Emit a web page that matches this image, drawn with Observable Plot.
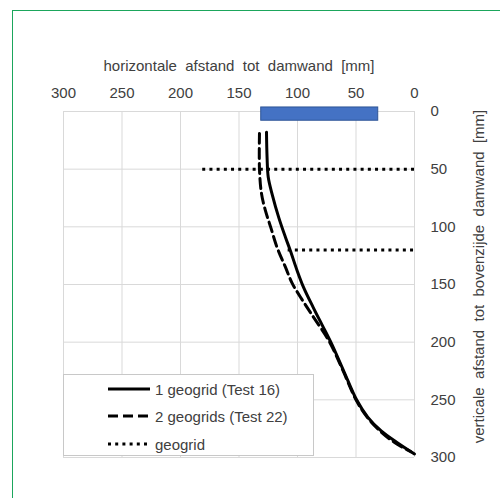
<!DOCTYPE html>
<html>
<head>
<meta charset="utf-8">
<script src="https://cdn.jsdelivr.net/npm/d3@7"></script>
<script src="https://cdn.jsdelivr.net/npm/@observablehq/plot@0.6"></script>
<style>
  html, body { margin: 0; padding: 0; background: #ffffff; }
  #wrap { position: relative; width: 500px; height: 498px; overflow: hidden; background: #ffffff;
          font-family: "Liberation Sans", Arial, sans-serif; }
  #frame { position: absolute; left: 12px; top: 10px; width: 520px; height: 520px;
           border-left: 1.5px solid #1ba65c; border-top: 1.5px solid #1ba65c; }
  #chart { position: absolute; left: 0; top: 0; }
  #legend { position: absolute; left: 63px; top: 374px; width: 251px; height: 82px;
            background: #ffffff; border: 1.5px solid #c8c8c8; box-sizing: border-box; }
  .row { position: absolute; left: 0; height: 20px; display: flex; align-items: center;
         font-size: 15px; color: #404040; white-space: nowrap; }
  .row svg { margin-left: 44px; margin-right: 5px; }
</style>
</head>
<body>
<div id="wrap">
  <div id="frame"></div>
  <div id="chart"></div>
  <div id="legend"></div>
</div>
<script>
// ---- data ----
const xTicks = [300, 250, 200, 150, 100, 50, 0];
const yTicks = [0, 50, 100, 150, 200, 250, 300];

const xLabel = "horizontale  afstand  tot  damwand  [mm]";
const yLabel = "verticale  afstand  tot  bovenzijde  damwand  [mm]";

// damwand (sheet pile) block
const wallFrom = [131];
const wallTo = [31];
const wallTop = [-3.5];
const wallBottom = [8];

// 1 geogrid (Test 16)
const test16Depth = [18, 40, 57, 72, 92, 109, 121, 138, 152, 170, 185, 200, 225, 250, 265, 277, 287, 297];
const test16X     = [126.5, 126, 125, 121.6, 116, 110.3, 106, 100.3, 95, 86.5, 79, 71.5, 60.5, 49.5, 40, 28.5, 15, 0];

// 2 geogrids (Test 22)
const test22Depth = [19, 50, 71, 86, 100, 118, 135, 149, 161, 175, 200, 225, 250, 265, 277, 287, 295];
const test22X     = [132.5, 132.5, 130.8, 127.4, 123, 117.4, 110.3, 104.5, 97.4, 88.5, 72.5, 61, 50, 40.5, 29.5, 17, 3];

// geogrid positions (dotted)
const geogridDepth = [50, 120];
const geogridStart = [181, 108];
const geogridEnd   = [0, 0];

const legendLabels = ["1 geogrid (Test 16)", "2 geogrids (Test 22)", "geogrid"];

// ---- build tables ----
const wall = wallFrom.map((d, i) => ({x1: d, x2: wallTo[i], y1: wallTop[i], y2: wallBottom[i]}));
const s16 = test16Depth.map((d, i) => ({y: d, x: test16X[i]}));
const s22 = test22Depth.map((d, i) => ({y: d, x: test22X[i]}));
const grids = geogridDepth.map((d, i) => ({y: d, x1: geogridStart[i], x2: geogridEnd[i]}));

const solidStyle = {stroke: "#000", strokeWidth: 3, strokeDasharray: null};
const dashStyle = {stroke: "#000", strokeWidth: 3, strokeDasharray: "10,5"};
const dotStyle = {stroke: "#000", strokeWidth: 3, strokeDasharray: "3,4.2"};

const chart = Plot.plot({
  width: 500,
  height: 498,
  marginLeft: 63,
  marginRight: 86,
  marginTop: 111,
  marginBottom: 41,
  style: {fontFamily: "'Liberation Sans', Arial, sans-serif", fontSize: "15px", color: "#404040", background: "transparent"},
  x: {domain: [300, 0], ticks: xTicks},
  y: {domain: [0, 300], reverse: true, ticks: yTicks},
  marks: [
    Plot.gridX(xTicks, {stroke: "#d9d9d9", strokeOpacity: 1, strokeWidth: 1}),
    Plot.gridY(yTicks, {stroke: "#d9d9d9", strokeOpacity: 1, strokeWidth: 1}),
    Plot.axisX(xTicks, {anchor: "top", tickSize: 0, tickPadding: 14, label: xLabel, labelAnchor: "center", labelOffset: 51, labelArrow: "none", fill: "#404040"}),
    Plot.axisY(yTicks, {anchor: "right", tickSize: 0, tickPadding: 16, label: null, fill: "#404040"}),
    Plot.text([yLabel], {text: d => d, frameAnchor: "right", textAnchor: "middle", lineAnchor: "middle", rotate: -90, dx: 65, dy: -8, fill: "#404040"}),
    Plot.ruleY(grids, {y: "y", x1: "x1", x2: "x2", ...dotStyle}),
    Plot.rect(wall, {x1: "x1", x2: "x2", y1: "y1", y2: "y2", fill: "#4472c4", stroke: "#2f5597", strokeWidth: 1}),
    Plot.line(s22, {x: "x", y: "y", curve: "catmull-rom", ...dashStyle}),
    Plot.line(s16, {x: "x", y: "y", curve: "catmull-rom", ...solidStyle})
  ]
});
document.getElementById("chart").appendChild(chart);

// legend
const legend = document.getElementById("legend");
const styles = [solidStyle, dashStyle, dotStyle];
const rowTops = [4, 31, 59];
legendLabels.forEach((lab, i) => {
  const row = document.createElement("div");
  row.className = "row";
  row.style.top = rowTops[i] + "px";
  const st = styles[i];
  row.innerHTML = `<svg width="42" height="8"><line x1="0" x2="42" y1="4" y2="4" stroke="${st.stroke}" stroke-width="${st.strokeWidth}" ${st.strokeDasharray ? `stroke-dasharray="${st.strokeDasharray}"` : ""}/></svg><span>${lab}</span>`;
  legend.appendChild(row);
});
</script>
</body>
</html>
